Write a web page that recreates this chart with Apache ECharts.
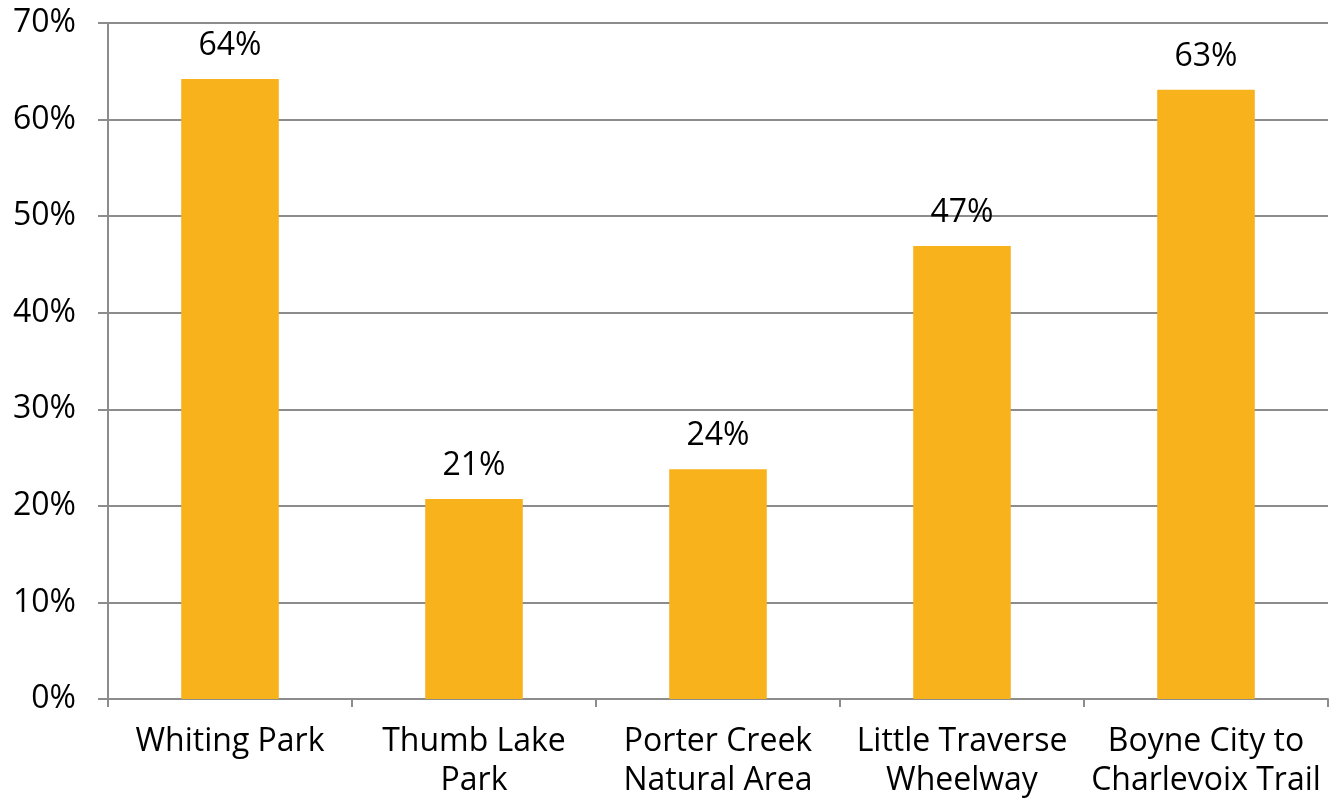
<!DOCTYPE html>
<html><head><meta charset="utf-8">
<script src="https://cdn.jsdelivr.net/npm/echarts@6/dist/echarts.min.js"></script>
<style>html,body{margin:0;padding:0;background:#fff}#c{width:1331px;height:800px}</style>
</head><body><div id="c"></div>
<script>
const categories = ["Whiting Park", "Thumb Lake\nPark", "Porter Creek\nNatural Area", "Little Traverse\nWheelway", "Boyne City to\nCharlevoix Trail"];
const values = [64.2, 20.7, 23.8, 46.9, 63.1];
const yTicks = {min: 0, max: 70, interval: 10};

const chart = echarts.init(document.getElementById('c'), null, {renderer: 'canvas'});
const font = '"Open Sans", "Noto Sans", sans-serif';
chart.setOption({
  animation: false,
  grid: {left: 108, right: 3, top: 23, bottom: 99, containLabel: false},
  xAxis: {
    type: 'category', data: categories,
    axisLine: {lineStyle: {color: '#8c8c8c', width: 2}},
    axisTick: {show: true, length: 8, alignWithLabel: false, lineStyle: {color: '#8c8c8c', width: 2}},
    axisLabel: {color: '#000', fontSize: 32, fontFamily: font, lineHeight: 39, margin: 23, interval: 0}
  },
  yAxis: {
    type: 'value', min: yTicks.min, max: yTicks.max, interval: yTicks.interval,
    axisLine: {show: true, lineStyle: {color: '#8c8c8c', width: 2}},
    axisTick: {show: true, length: 10, lineStyle: {color: '#8c8c8c', width: 2}},
    splitLine: {lineStyle: {color: '#8c8c8c', width: 2}},
    axisLabel: {color: '#000', fontSize: 32, fontFamily: font, margin: 32, formatter: v => v + '%'}
  },
  series: [{
    type: 'bar', data: values, barWidth: '40%',
    itemStyle: {color: '#F8B21C'},
    label: {show: true, position: 'top', distance: 17, color: '#000', fontSize: 32, fontFamily: font,
      formatter: p => Math.round(p.value) + '%'}
  }]
});
</script></body></html>
